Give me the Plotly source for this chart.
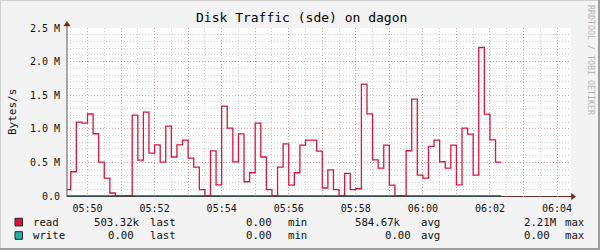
import plotly.graph_objects as go

# ---------------- data ----------------
times = [
    "05:49:20", "05:49:30", "05:49:40", "05:49:50",
    "05:50:00", "05:50:10", "05:50:20", "05:50:30", "05:50:40", "05:50:50",
    "05:51:00", "05:51:10", "05:51:20", "05:51:30", "05:51:40", "05:51:50",
    "05:52:00", "05:52:10", "05:52:20", "05:52:30", "05:52:40", "05:52:50",
    "05:53:00", "05:53:10", "05:53:20", "05:53:30", "05:53:40", "05:53:50",
    "05:54:00", "05:54:10", "05:54:20", "05:54:30", "05:54:40", "05:54:50",
    "05:55:00", "05:55:10", "05:55:20", "05:55:30", "05:55:40", "05:55:50",
    "05:56:00", "05:56:10", "05:56:20", "05:56:30", "05:56:40", "05:56:50",
    "05:57:00", "05:57:10", "05:57:20", "05:57:30", "05:57:40", "05:57:50",
    "05:58:00", "05:58:10", "05:58:20", "05:58:30", "05:58:40", "05:58:50",
    "05:59:00", "05:59:10", "05:59:20", "05:59:30", "05:59:40", "05:59:50",
    "06:00:00", "06:00:10", "06:00:20", "06:00:30", "06:00:40", "06:00:50",
    "06:01:00", "06:01:10", "06:01:20", "06:01:30", "06:01:40", "06:01:50",
    "06:02:00", "06:02:10",
]
# read traffic in MB/s (M = 1e6 bytes/s)
read_m = [
    0.094, 0.361, 1.100, 1.085,
    1.220, 0.926, 0.505, 0.267, 0.045, 0.000,
    0.000, 0.000, 1.203, 0.535, 1.248, 0.639,
    0.762, 0.505, 1.040, 0.580, 0.762, 0.832,
    0.565, 0.431, 0.094, 0.000, 0.671, 0.165,
    1.337, 1.010, 0.507, 0.923, 0.212, 0.346,
    1.085, 0.580, 0.094, 0.000, 0.431, 0.777,
    0.163, 0.346, 0.758, 0.832, 0.832, 0.669,
    0.119, 0.388, 0.094, 0.000, 0.336, 0.094,
    0.108, 1.664, 1.223, 0.539, 0.416, 0.758,
    0.163, 0.000, 0.000, 0.673, 1.441, 0.312,
    0.267, 0.737, 0.832, 0.510, 0.416, 0.758,
    0.165, 1.010, 0.920, 0.312, 2.210, 1.218,
    0.836, 0.503,
]
write_m = [
    0.0, 0.0, 0.0, 0.0,
    0.0, 0.0, 0.0, 0.0, 0.0, 0.0,
    0.0, 0.0, 0.0, 0.0, 0.0, 0.0,
    0.0, 0.0, 0.0, 0.0, 0.0, 0.0,
    0.0, 0.0, 0.0, 0.0, 0.0, 0.0,
    0.0, 0.0, 0.0, 0.0, 0.0, 0.0,
    0.0, 0.0, 0.0, 0.0, 0.0, 0.0,
    0.0, 0.0, 0.0, 0.0, 0.0, 0.0,
    0.0, 0.0, 0.0, 0.0, 0.0, 0.0,
    0.0, 0.0, 0.0, 0.0, 0.0, 0.0,
    0.0, 0.0, 0.0, 0.0, 0.0, 0.0,
    0.0, 0.0, 0.0, 0.0, 0.0, 0.0,
    0.0, 0.0, 0.0, 0.0, 0.0, 0.0,
    0.0, 0.0,
]
step_seconds = 10

x_tick_labels = ["05:50", "05:52", "05:54", "05:56", "05:58", "06:00", "06:02", "06:04"]
y_tick_values_m = [0.0, 0.5, 1.0, 1.5, 2.0, 2.5]
y_tick_labels = ["0.0", "0.5 M", "1.0 M", "1.5 M", "2.0 M", "2.5 M"]

series_names = ["read", "write"]
last_vals = ["503.32k", "0.00"]
min_vals = ["0.00", "0.00"]
avg_vals = ["584.67k", "0.00"]
max_vals = ["2.21M", "0.00"]

title_text = "Disk Traffic (sde) on dagon"
y_title = "Bytes/s"
watermark = "RRDTOOL / TOBI OETIKER"

# ---------------- styling ----------------
W, H = 600, 250
L, R, T, B = 67, 29, 28, 53
PW, PH = W - L - R, H - T - B
MONO = "DejaVu Sans Mono"
READ_COLOR = "#DC143C"
WRITE_LINE = "#1F524C"
WRITE_BOX = "#20B2AA"
AXIS_COLOR = "#6B3030"
YAXIS_COLOR = "#555555"
ARROW_COLOR = "#7F1F1F"


def sec(s):
    h, m, *rest = s.split(":")
    return int(h) * 3600 + int(m) * 60 + (int(rest[0]) if rest else 0)


def px(xp):
    return (xp - L) / PW


def py(yp):
    return (H - B - yp) / PH


xs = [sec(t) for t in times]
xs_step = xs + [xs[-1] + step_seconds]
read_y = [v * 1e6 for v in read_m] + [read_m[-1] * 1e6]
write_y = [v * 1e6 for v in write_m] + [write_m[-1] * 1e6]

x_start = sec("05:49:23") + 0.3
x_end = sec("06:04:25")

major_x = list(range(sec("05:50:00"), sec("06:04:00") + 1, 60))
major_x_text = []
for v in major_x:
    hh, mm = divmod(v // 60, 60)
    lab = f"{hh:02d}:{mm:02d}"
    major_x_text.append(lab if lab in x_tick_labels else "")

fig = go.Figure()
fig.add_trace(go.Scatter(x=xs_step, y=read_y, mode="lines", line=dict(color=READ_COLOR, width=1.3, shape="hv"),
                         name=series_names[0], hoverinfo="skip"))
fig.add_trace(go.Scatter(x=xs_step, y=write_y, mode="lines", line=dict(color=WRITE_LINE, width=1.3, shape="hv"),
                         name=series_names[1], hoverinfo="skip"))

y_bottom = -(1.0 / 67.2) * 1e6  # one pixel below zero so the zero line is visible

fig.update_layout(
    width=W, height=H,
    margin=dict(l=L, r=R, t=T, b=B, pad=0),
    paper_bgcolor="#F3F3F3",
    plot_bgcolor="#FFFFFF",
    showlegend=False,
    font=dict(family=MONO, size=10, color="#111111"),
    xaxis=dict(
        range=[x_start, x_end],
        tickmode="array", tickvals=major_x, ticktext=major_x_text,
        showgrid=True, gridcolor="rgba(235,120,120,0.55)", griddash="1px,2px", gridwidth=1,
        showline=False, zeroline=False, ticks="", ticklabelstandoff=4,
        tickfont=dict(family=MONO, size=10, color="#111111"),
        minor=dict(dtick=30, tick0=sec("05:50:00"), showgrid=True,
                   gridcolor="rgba(150,150,150,0.45)", griddash="1px,2px", gridwidth=1),
        fixedrange=True,
    ),
    yaxis=dict(
        range=[y_bottom, 2.5e6],
        tickmode="array", tickvals=[v * 1e6 for v in y_tick_values_m], ticktext=y_tick_labels,
        showgrid=True, gridcolor="rgba(235,120,120,0.55)", griddash="1px,2px", gridwidth=1,
        showline=False, zeroline=False, ticks="", ticklabelstandoff=6,
        tickfont=dict(family=MONO, size=10, color="#111111"),
        minor=dict(dtick=0.1e6, tick0=0, showgrid=True,
                   gridcolor="rgba(150,150,150,0.45)", griddash="1px,2px", gridwidth=1),
        fixedrange=True,
    ),
)

shapes = []
# frame shading
shapes.append(dict(type="rect", xref="paper", yref="paper", x0=px(0), x1=px(600), y0=py(0), y1=py(250),
                   line=dict(width=0), fillcolor="rgba(0,0,0,0)", layer="below"))
shapes.append(dict(type="line", xref="paper", yref="paper", x0=px(0.5), x1=px(0.5), y0=py(0), y1=py(250),
                   line=dict(color="#CFCFCF", width=1)))
shapes.append(dict(type="line", xref="paper", yref="paper", x0=px(0), x1=px(600), y0=py(0.5), y1=py(0.5),
                   line=dict(color="#CFCFCF", width=1)))
shapes.append(dict(type="line", xref="paper", yref="paper", x0=px(599), x1=px(599), y0=py(0), y1=py(250),
                   line=dict(color="#9E9E9E", width=2)))
shapes.append(dict(type="line", xref="paper", yref="paper", x0=px(0), x1=px(600), y0=py(249), y1=py(249),
                   line=dict(color="#9E9E9E", width=2)))
# axes
shapes.append(dict(type="line", xref="paper", yref="paper", x0=px(67), x1=px(572), y0=py(196.5), y1=py(196.5),
                   line=dict(color=AXIS_COLOR, width=1), layer="between"))
shapes.append(dict(type="line", xref="paper", yref="paper", x0=px(67), x1=px(67), y0=py(197), y1=py(24),
                   line=dict(color=YAXIS_COLOR, width=1)))
shapes.append(dict(type="path", xref="paper", yref="paper",
                   path=f"M {px(571.5)},{py(193.3)} L {px(575.5)},{py(196.5)} L {px(571.5)},{py(199.7)} Z",
                   fillcolor=ARROW_COLOR, line=dict(color=ARROW_COLOR, width=0.5)))
shapes.append(dict(type="path", xref="paper", yref="paper",
                   path=f"M {px(63.8)},{py(26)} L {px(67)},{py(21.5)} L {px(70.2)},{py(26)} Z",
                   fillcolor=ARROW_COLOR, line=dict(color=ARROW_COLOR, width=0.5)))
# legend boxes
for i, col in enumerate([READ_COLOR, WRITE_BOX]):
    y0 = 218.3 + i * 13.4
    shapes.append(dict(type="rect", xref="paper", yref="paper", x0=px(15), x1=px(22.5),
                       y0=py(y0), y1=py(y0 + 7.6), fillcolor=col, line=dict(color="#222222", width=1)))
fig.update_layout(shapes=shapes)

ann = []
ann.append(dict(text=title_text, x=px(301), y=py(18), xref="paper", yref="paper", showarrow=False,
                xanchor="center", yanchor="middle", font=dict(family=MONO, size=13, color="#000000")))
ann.append(dict(text=y_title, x=px(12), y=py(112), xref="paper", yref="paper", showarrow=False, textangle=-90,
                xanchor="center", yanchor="middle", font=dict(family=MONO, size=11, color="#111111")))
ann.append(dict(text=watermark, x=px(591), y=py(60), xref="paper", yref="paper", showarrow=False, textangle=90,
                xanchor="center", yanchor="middle", font=dict(family=MONO, size=8.3, color="#B5B5B5")))

LEG = 10.7
for i in range(2):
    yc = 222.3 + i * 13.4
    items = [
        (series_names[i], 31),
        (last_vals[i], 91.7 if i == 0 else 106.0),
        ("last", 148.0),
        (min_vals[i], 244.3),
        ("min", 286.0),
        (avg_vals[i], 352.7 if i == 0 else 382.7),
        ("avg", 419.3),
        (max_vals[i], 521.7),
        ("max", 563.3),
    ]
    for txt, xl in items:
        ann.append(dict(text=txt, x=px(xl), y=py(yc), xref="paper", yref="paper", showarrow=False,
                        xanchor="left", yanchor="middle", font=dict(family=MONO, size=LEG, color="#111111")))
fig.update_layout(annotations=ann)

fig.write_html("out.html")
